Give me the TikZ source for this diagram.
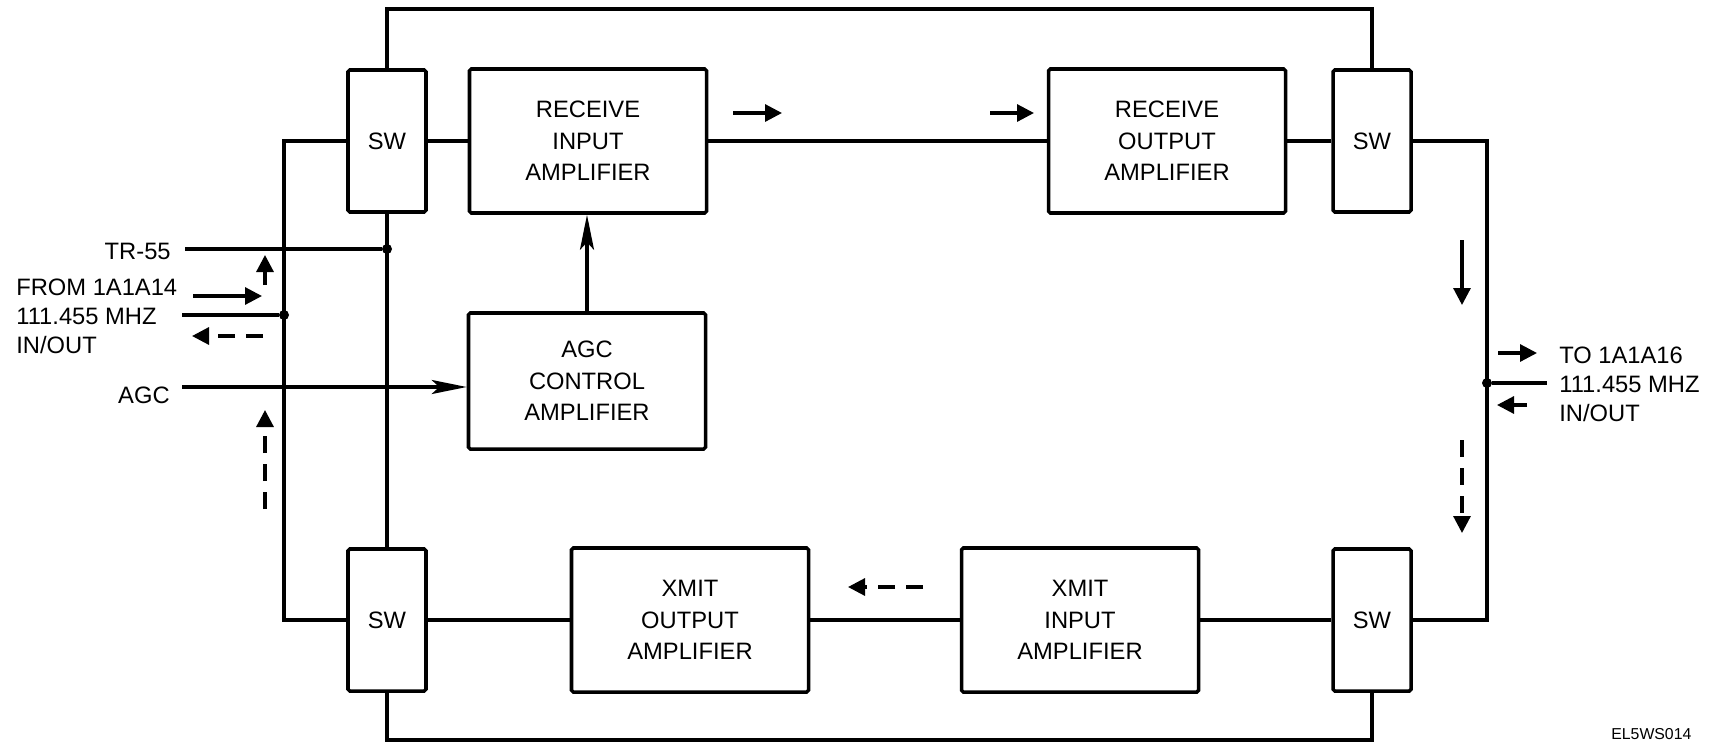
\documentclass[tikz,border=0pt]{standalone}
\usepackage{fontspec}
\setmainfont{Liberation Sans}
\usetikzlibrary{arrows.meta, positioning}

\begin{document}
\begin{tikzpicture}[
    x=0.2mm, y=-0.2mm,
    font=\fontsize{13.5}{18}\selectfont,
    % Block styles
    ampblock/.style={
        rectangle,
        draw,
        rounded corners=1pt,
        minimum width=47.4mm,
        minimum height=28.8mm,
        align=center,
        line width=2pt
    },
    swblock/.style={
        rectangle,
        draw,
        rounded corners=1pt,
        minimum width=15.6mm,
        minimum height=28.4mm,
        line width=2pt
    },
    sidetext/.style={
        font=\fontsize{13.5}{16.5}\selectfont,
        align=left,
        inner sep=0pt
    },
    junction/.style={circle, fill, inner sep=0pt, minimum size=2mm},
    wire/.style={line width=1.8pt},
    feed/.style={wire, -{Stealth[length=7mm, width=2.8mm, inset=1.5mm]}},
    flowarr/.style={line width=1.8pt, -{Triangle[length=3.4mm, width=3.4mm]}},
    flowdash/.style={flowarr, dash pattern=on 3.4mm off 2.2mm}
]
    \useasboundingbox (0,0) rectangle (1728,744);

    % ==========================================
    % 1. RECEIVE PATH (top row)
    % ==========================================
    \node[swblock] (swri) at (387,141) {SW};
    \node[ampblock] (rxin) at (588,141) {RECEIVE\\INPUT\\AMPLIFIER};
    \node[ampblock] (rxout) at (1167,141) {RECEIVE\\OUTPUT\\AMPLIFIER};
    \node[swblock] (swro) at (1372,141) {SW};

    \node[ampblock, minimum height=27.2mm] (agc) at (587,381) {AGC\\CONTROL\\AMPLIFIER};

    % ==========================================
    % 2. XMIT PATH (bottom row)
    % ==========================================
    \node[swblock] (swxo) at (387,620) {SW};
    \node[ampblock] (txout) at (690,620) {XMIT\\OUTPUT\\AMPLIFIER};
    \node[ampblock] (txin) at (1080,620) {XMIT\\INPUT\\AMPLIFIER};
    \node[swblock] (swxi) at (1372,620) {SW};

    % ==========================================
    % 3. WIRING
    % ==========================================
    \draw[wire] (swri) -- (rxin);
    \draw[wire] (rxin) -- (rxout);
    \draw[wire] (rxout) -- (swro);
    \draw[wire] (swxo) -- (txout);
    \draw[wire] (txout) -- (txin);
    \draw[wire] (txin) -- (swxi);

    % Bypass rails
    \coordinate (toprail) at (0,9);
    \coordinate (botrail) at (0,740);
    \draw[wire] (swri.north) |- (toprail -| swro.north) -- (swro.north);
    \draw[wire] (swxo.south) |- (botrail -| swxi.south) -- (swxi.south);
    \draw[wire] (swri.south) -- (swxo.north);

    % Side rails
    \coordinate (ljoin) at (284,315);
    \coordinate (rjoin) at (1487,383);
    \coordinate (trjoin) at (387,249);
    \draw[wire] (swri.west) -| (ljoin) |- (swxo.west);
    \draw[wire] (swro.east) -| (rjoin) |- (swxi.east);
    \node[junction] (dotl) at (ljoin) {};
    \node[junction] (dotr) at (rjoin) {};
    \node[junction] (dottr) at (trjoin) {};

    % ==========================================
    % 4. INPUTS / OUTPUTS
    % ==========================================
    \node[sidetext, anchor=east] (trlbl) at (171,251) {TR-55};
    \coordinate (trin) at (185,249);
    \draw[wire] (trin) -- (dottr);

    \node[sidetext, anchor=west] (fromlbl) at (16,316) {FROM 1A1A14\\111.455 MHZ\\IN/OUT};
    \coordinate (lin) at (182,315);
    \draw[wire] (lin) -- (dotl);

    \node[sidetext, anchor=east] (agclbl) at (170,395) {AGC};
    \coordinate (agcin) at (182,387);
    \draw[feed] (agcin) -- (agcin -| agc.west);
    \draw[feed] (agc.north) -- (agc.north |- rxin.south);

    \node[sidetext, anchor=west] (tolbl) at (1559,384) {TO 1A1A16\\111.455 MHZ\\IN/OUT};
    \coordinate (rout) at (1547,383);
    \draw[wire] (dotr) -- (rout);

    % ==========================================
    % 5. SIGNAL DIRECTION MARKERS
    % ==========================================
    \draw[flowarr] (733,113) -- (782,113);
    \draw[flowarr] (990,113) -- (1034,113);
    \draw[flowarr] (1462,240) -- (1462,305);
    \draw[flowdash] (1462,440) -- (1462,533);
    \draw[flowarr] (1498,353) -- (1537,353);
    \draw[flowdash] (1527,405) -- (1497,405);
    \draw[flowdash] (923,587) -- (848,587);
    \draw[flowarr] (265,285) -- (265,255);
    \draw[flowarr] (193,296) -- (262,296);
    \draw[flowdash] (263,336) -- (192,336);
    \draw[flowdash] (265,509) -- (265,410);

    \node[font=\fontsize{9}{10}\selectfont, anchor=west, inner sep=0pt] (figid) at (1611,734) {EL5WS014};

\end{tikzpicture}
\end{document}
